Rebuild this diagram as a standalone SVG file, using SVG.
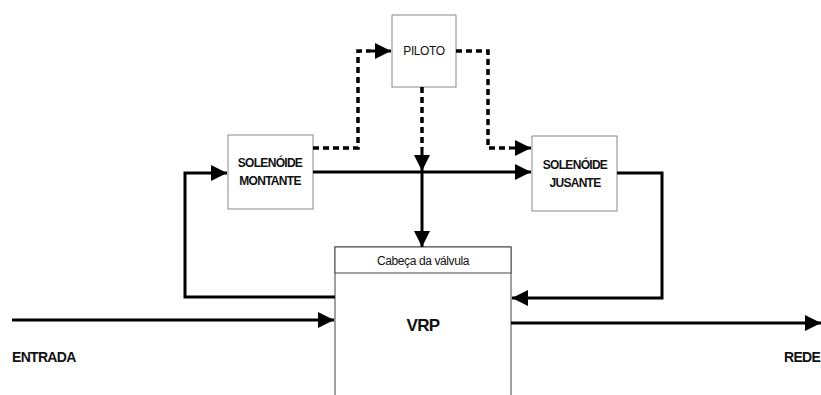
<svg xmlns="http://www.w3.org/2000/svg" width="821" height="395" viewBox="0 0 821 395">
<style>
.box{fill:#fff;stroke:#888;stroke-width:1}
.vrp{fill:#fff;stroke:#444;stroke-width:1}
.lbl{font-family:"Liberation Sans",Arial,sans-serif;font-size:12px;font-weight:bold;fill:#111;text-anchor:middle;letter-spacing:-0.7px}
.reg{font-family:"Liberation Sans",Arial,sans-serif;font-size:12px;fill:#111;text-anchor:middle;letter-spacing:-0.4px}
.solid{fill:none;stroke:#000;stroke-width:3}
.dash{fill:none;stroke:#000;stroke-width:3.5;stroke-dasharray:6 4}
</style>
<defs>
<marker id="ah" viewBox="0 0 10 10" refX="10" refY="5" markerWidth="22" markerHeight="16" markerUnits="userSpaceOnUse" orient="auto">
<path d="M0,0 L10,5 L0,10 z" fill="#000"/>
</marker>
</defs>
<g id="vrp">
<rect class="vrp" x="335" y="247" width="176" height="160"/>
<text class="lbl" x="423" y="331" style="font-size:17px">VRP</text>
</g>
<g id="cabeca">
<rect class="vrp" x="335" y="247" width="176" height="26"/>
<text class="reg" x="423" y="265">Cabeça da válvula</text>
</g>
<g id="piloto">
<rect class="box" x="392" y="15" width="64" height="72"/>
<text class="reg" x="424" y="55">PILOTO</text>
</g>
<g id="solenoide-montante">
<rect class="box" x="228" y="135" width="85" height="74"/>
<text class="lbl" x="270" y="167">SOLENÓIDE</text>
<text class="lbl" x="270" y="185">MONTANTE</text>
</g>
<g id="solenoide-jusante">
<rect class="box" x="532" y="136" width="85" height="75"/>
<text class="lbl" x="575" y="169">SOLENÓIDE</text>
<text class="lbl" x="575" y="187">JUSANTE</text>
</g>
<g id="labels">
<text class="lbl" x="12" y="362" style="text-anchor:start;font-size:14px">ENTRADA</text>
<text class="lbl" x="784" y="362" style="text-anchor:start;font-size:14px">REDE</text>
</g>
<g id="connectors">
<path class="dash" d="M313,148 H358 V51 H370"/>
<path class="solid" d="M370,51 H391" marker-end="url(#ah)"/>
<path class="dash" d="M456,51 H488 V148 H510"/>
<path class="solid" d="M510,148 H531" marker-end="url(#ah)"/>
<path class="dash" d="M422,87 V148"/>
<path class="solid" d="M422,148 V171" marker-end="url(#ah)"/>
<path class="solid" d="M313,172 H531" marker-end="url(#ah)"/>
<path class="solid" d="M422,172 V247" marker-end="url(#ah)"/>
<path class="solid" d="M335,297 H185 V173 H227" marker-end="url(#ah)"/>
<path class="solid" d="M617,173 H662 V298 H512" marker-end="url(#ah)"/>
<path class="solid" d="M12,320 H334" marker-end="url(#ah)"/>
<path class="solid" d="M511,323 H821" marker-end="url(#ah)"/>
</g>
</svg>
